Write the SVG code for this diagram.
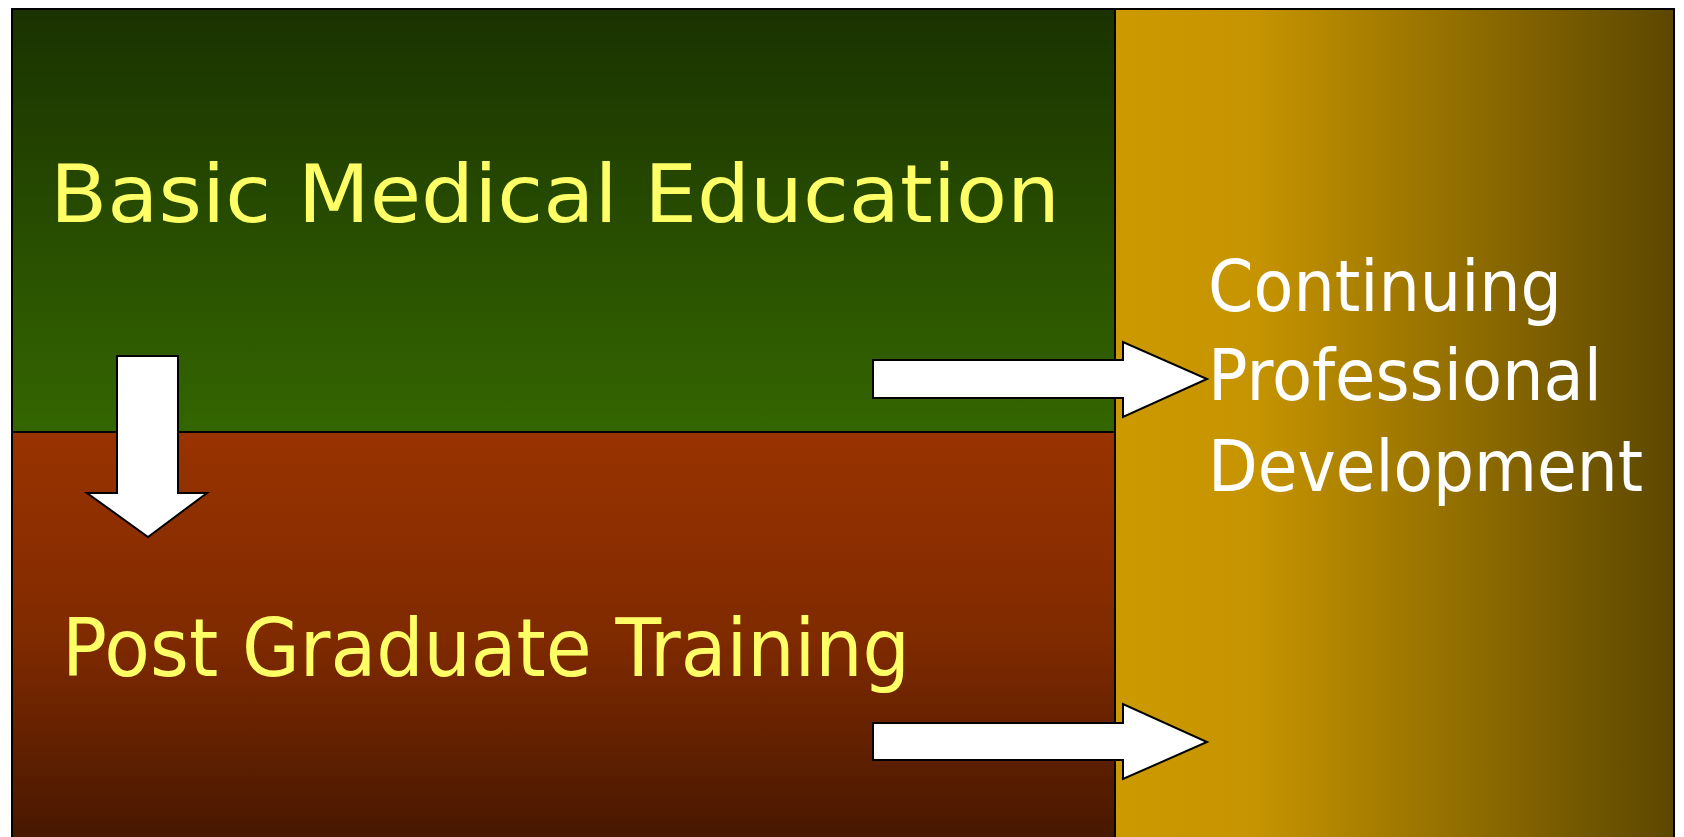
<svg xmlns="http://www.w3.org/2000/svg" width="1684" height="837" viewBox="0 0 1684 837">
<defs>
<linearGradient id="gGreen" x1="0" y1="0" x2="0" y2="1">
<stop offset="0" stop-color="#1a3200"/>
<stop offset="1" stop-color="#346600"/>
</linearGradient>
<linearGradient id="gBrown" x1="0" y1="0" x2="0" y2="1">
<stop offset="0" stop-color="#993300"/>
<stop offset="0.5" stop-color="#802a00"/>
<stop offset="1" stop-color="#461700"/>
</linearGradient>
<linearGradient id="gGold" x1="0" y1="0" x2="1" y2="0">
<stop offset="0" stop-color="#cc9900"/>
<stop offset="0.25" stop-color="#c69400"/>
<stop offset="1" stop-color="#5c4700"/>
</linearGradient>
<style>
.panel{stroke:#000;stroke-width:2}
.arrow{fill:#fff;stroke:#000;stroke-width:2;stroke-linejoin:miter}
.yl{font-family:"DejaVu Sans","Verdana",sans-serif;fill:#ffff66;font-size:81px}
.wt{font-family:"DejaVu Sans","Verdana",sans-serif;fill:#fff;font-size:71px}
</style>
</defs>
<rect width="1684" height="837" fill="#fff"/>
<g id="basic">
<rect class="panel" x="12" y="9" width="1103" height="423" fill="url(#gGreen)"/>
<text class="yl" x="50" y="222" textLength="1010" lengthAdjust="spacingAndGlyphs">Basic Medical Education</text>
</g>
<g id="postgrad">
<rect class="panel" x="12" y="432" width="1103" height="410" fill="url(#gBrown)"/>
<text class="yl" x="62" y="676" textLength="848" lengthAdjust="spacingAndGlyphs">Post Graduate Training</text>
</g>
<g id="cpd">
<rect class="panel" x="1115" y="9" width="559" height="833" fill="url(#gGold)"/>
<text class="wt" x="1208" y="311" textLength="354" lengthAdjust="spacingAndGlyphs">Continuing</text>
<text class="wt" x="1208" y="400" textLength="394" lengthAdjust="spacingAndGlyphs">Professional</text>
<text class="wt" x="1208" y="491" textLength="435" lengthAdjust="spacingAndGlyphs">Development</text>
</g>
<g id="connectors">
<polygon class="arrow" points="117,356 178,356 178,493 207,493 148,537 87,493 117,493"/>
<polygon class="arrow" points="873,360 1123,360 1123,342 1207,379 1123,417 1123,398 873,398"/>
<polygon class="arrow" points="873,723 1123,723 1123,704 1207,742 1123,779 1123,760 873,760"/>
</g>
</svg>
